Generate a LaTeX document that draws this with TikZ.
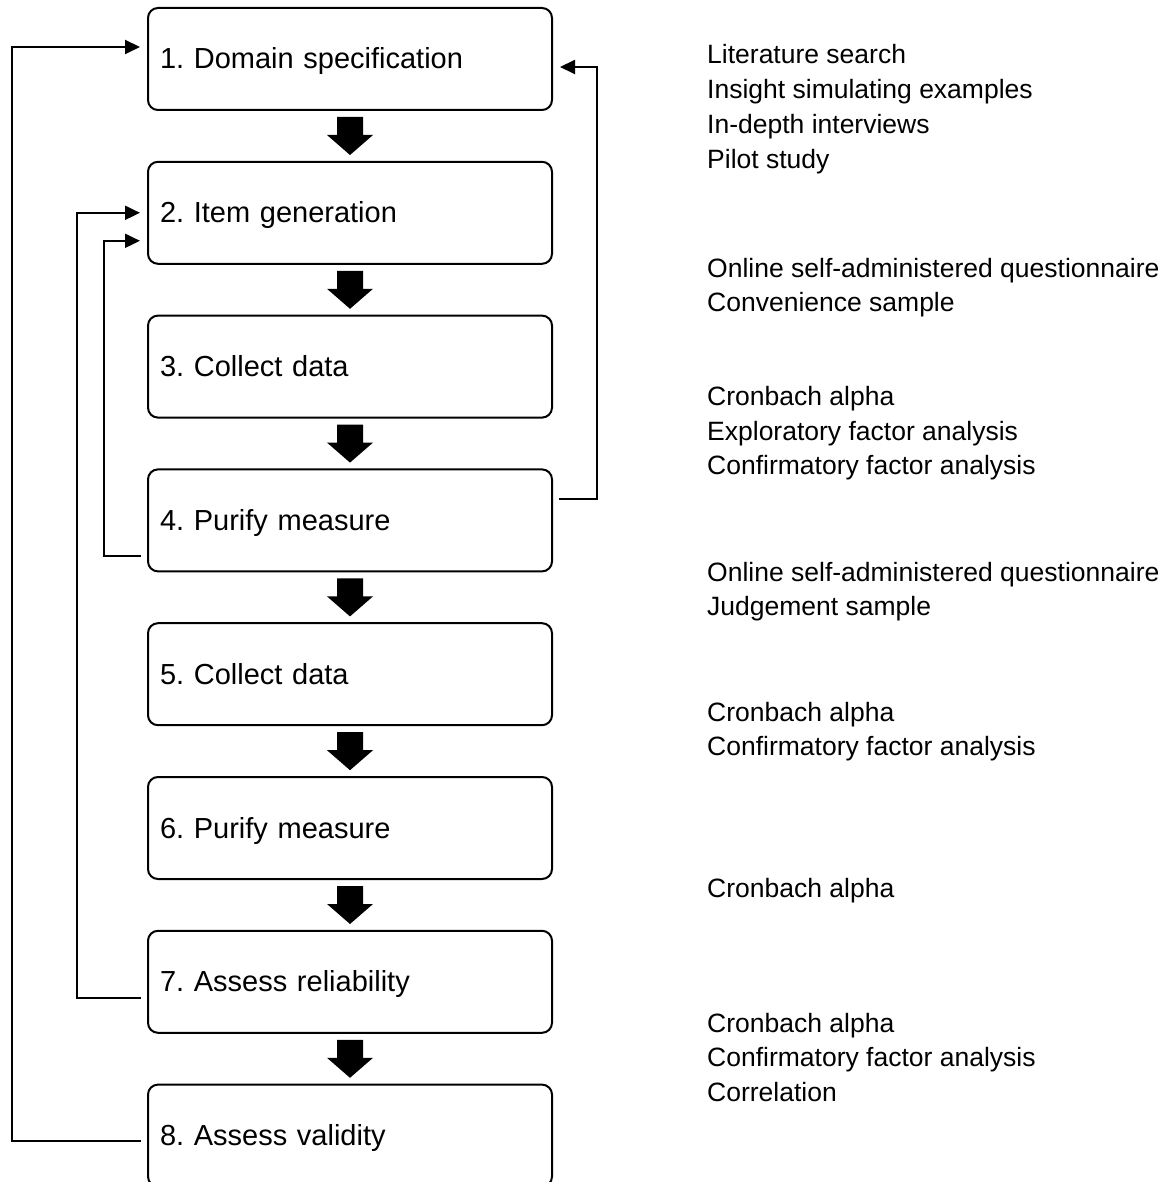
\documentclass[tikz,border=0pt]{standalone}
\usepackage{fontspec}
\setmainfont{Liberation Sans}
\usetikzlibrary{arrows.meta}
\frenchspacing
\begin{document}
\begin{tikzpicture}[x=1pt,y=-1pt,
  stagebox/.style={draw, line width=2pt, rounded corners=10pt,
    minimum height=102pt, inner xsep=12pt, inner ysep=0pt,
    text width=380pt, align=left, text height=26pt, text depth=6pt,
    font=\fontsize{29}{34}\selectfont, outer sep=0pt},
  note/.style={anchor=base west, inner sep=0pt,
    font=\fontsize{26.5}{32}\selectfont},
  feedback/.style={line width=2pt, -{Triangle[length=15pt,width=14pt]},
    shorten <=7pt, shorten >=8pt},
  flowarrow/.style={fill=black}
]
\useasboundingbox (0,0) rectangle (1168,1182);

% process stages
\node[stagebox] (b1) at (350,59)     {1. Domain specification};
\node[stagebox] (b2) at (350,212.8)  {2. Item generation};
\node[stagebox] (b3) at (350,366.6)  {3. Collect data};
\node[stagebox] (b4) at (350,520.4)  {4. Purify measure};
\node[stagebox] (b5) at (350,674.2)  {5. Collect data};
\node[stagebox] (b6) at (350,828)    {6. Purify measure};
\node[stagebox] (b7) at (350,981.8)  {7. Assess reliability};
\node[stagebox] (b8) at (350,1135.6) {8. Assess validity};

% block arrows between consecutive stages
\foreach \i in {1,...,7} {
  \fill[flowarrow] (b\i.south) ++(-13,7) -- ++(26,0) -- ++(0,18) -- ++(10,0)
    -- ++(-23,20) -- ++(-23,-20) -- ++(10,0) -- cycle;
}

% feedback loops
\draw[feedback] ([yshift=-5pt]b8.west)  -- ++(-136,0) |- ([yshift=12pt]b1.west);
\draw[feedback] ([yshift=-16pt]b7.west) -- ++(-71,0)  |- (b2.west);
\draw[feedback] ([yshift=-36pt]b4.west) -- ++(-44,0)  |- ([yshift=-28pt]b2.west);
\draw[feedback] ([yshift=21pt]b4.east)  -- ++(45,0)   |- ([yshift=-8pt]b1.east);

% methods used at each stage
\foreach \y/\t [count=\k] in {
  64/Literature search,
  98.7/Insight simulating examples,
  133.4/In-depth interviews,
  168.1/Pilot study,
  277/Online self-administered questionnaire,
  311.7/Convenience sample,
  405.5/Cronbach alpha,
  440.2/Exploratory factor analysis,
  474.9/Confirmatory factor analysis,
  581/Online self-administered questionnaire,
  615.7/Judgement sample,
  721/Cronbach alpha,
  755.7/Confirmatory factor analysis,
  897/Cronbach alpha,
  1032/Cronbach alpha,
  1066.7/Confirmatory factor analysis,
  1101.4/Correlation} {
  \node[note] (n\k) at (707,\y) {\t};
}
\end{tikzpicture}
\end{document}
